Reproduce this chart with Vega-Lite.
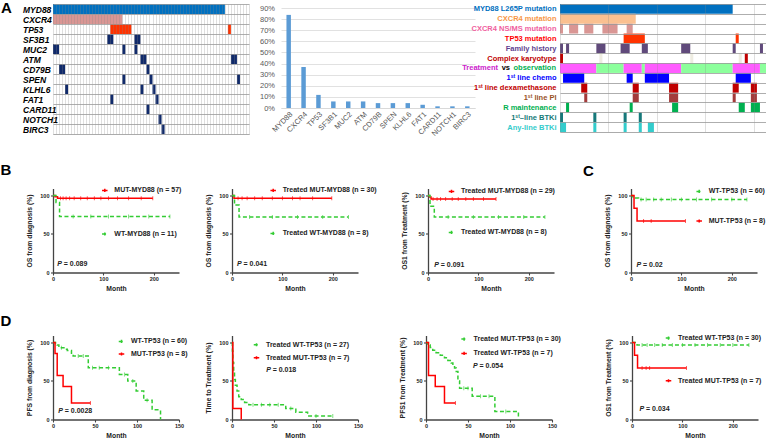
{
"$schema": "https://vega.github.io/schema/vega-lite/v6.json",
"padding": {"left": 0, "top": 0, "right": 0, "bottom": 0},
"background": "white",
"spacing": 24.5,
"config": {
 "font": "Liberation Sans",
 "view": {"stroke": null},
 "axis": {"labelFont": "Liberation Sans", "titleFont": "Liberation Sans", "labelFontWeight": "bold", "titleFontWeight": "bold", "labelFontSize": 5.5, "titleFontSize": 6.8, "labelColor": "#222", "titleColor": "#222", "domainColor": "#444", "domainWidth": 1.3, "tickColor": "#444", "tickWidth": 1.1, "tickSize": 2.5, "labelPadding": 1.5, "grid": false, "labelFlush": false},
 "axisX": {"titlePadding": 3},
 "axisY": {"titlePadding": 7},
 "legend": {"orient": "none", "title": null, "labelFont": "Liberation Sans", "labelFontWeight": "bold", "labelFontSize": 7, "labelColor": "#222", "symbolType": "M-0.5,0H0.5M0,-0.28V0.28", "symbolSize": 121, "symbolStrokeWidth": 1.4, "labelOffset": 3, "padding": 0},
 "title": {"font": "Liberation Sans", "fontSize": 15, "fontWeight": "bold", "color": "#000", "anchor": "start", "frame": "group", "baseline": "alphabetic"},
 "line": {"strokeWidth": 1.5}
},
"datasets": {
 "onco": [
  {"gene":"MYD88","s":0,"e":57,"k":"MYD88"},
  {"gene":"CXCR4","s":0,"e":23,"k":"CXCR4"},
  {"gene":"TP53","s":19,"e":26,"k":"TP53"},{"gene":"TP53","s":58,"e":59,"k":"TP53"},
  {"gene":"SF3B1","s":18,"e":20,"k":"other"},{"gene":"SF3B1","s":27,"e":29,"k":"other"},
  {"gene":"MUC2","s":0,"e":2,"k":"other"},{"gene":"MUC2","s":23,"e":24,"k":"other"},{"gene":"MUC2","s":27,"e":28,"k":"other"},
  {"gene":"ATM","s":29,"e":31,"k":"other"},{"gene":"ATM","s":59,"e":61,"k":"other"},
  {"gene":"CD79B","s":2,"e":4,"k":"other"},{"gene":"CD79B","s":31,"e":32,"k":"other"},
  {"gene":"SPEN","s":23,"e":24,"k":"other"},{"gene":"SPEN","s":32,"e":33,"k":"other"},{"gene":"SPEN","s":61,"e":62,"k":"other"},
  {"gene":"KLHL6","s":4,"e":5,"k":"other"},{"gene":"KLHL6","s":29,"e":30,"k":"other"},{"gene":"KLHL6","s":33,"e":34,"k":"other"},
  {"gene":"FAT1","s":19,"e":20,"k":"other"},{"gene":"FAT1","s":34,"e":35,"k":"other"},
  {"gene":"CARD11","s":31,"e":32,"k":"other"},
  {"gene":"NOTCH1","s":35,"e":36,"k":"other"},
  {"gene":"BIRC3","s":36,"e":37,"k":"other"}
 ],
 "freq": [
  {"gene":"MYD88","pct":0.838},{"gene":"CXCR4","pct":0.368},{"gene":"TP53","pct":0.118},{"gene":"SF3B1","pct":0.059},{"gene":"MUC2","pct":0.059},{"gene":"ATM","pct":0.059},{"gene":"CD79B","pct":0.044},{"gene":"SPEN","pct":0.044},{"gene":"KLHL6","pct":0.044},{"gene":"FAT1","pct":0.029},{"gene":"CARD11","pct":0.015},{"gene":"NOTCH1","pct":0.015},{"gene":"BIRC3","pct":0.015}
 ],
 "clin": [
  {"row":"MYD88 L265P mutation","s":0,"e":57,"c":"MYD88"},
  {"row":"CXCR4 mutation","s":0,"e":25,"c":"CXCR4"},
  {"row":"CXCR4 NS/MS mutation","s":0,"e":1,"c":"NSMS"},{"row":"CXCR4 NS/MS mutation","s":3,"e":6,"c":"NSMS"},{"row":"CXCR4 NS/MS mutation","s":8,"e":11,"c":"NSMS"},{"row":"CXCR4 NS/MS mutation","s":14,"e":19,"c":"NSMS"},{"row":"CXCR4 NS/MS mutation","s":22,"e":24,"c":"NSMS"},
  {"row":"TP53 mutation","s":21,"e":28,"c":"TP53"},{"row":"TP53 mutation","s":58,"e":59,"c":"TP53"},
  {"row":"Family history","s":0,"e":1,"c":"Family"},{"row":"Family history","s":2,"e":3,"c":"Family"},{"row":"Family history","s":12,"e":15,"c":"Family"},{"row":"Family history","s":20,"e":23,"c":"Family"},{"row":"Family history","s":27,"e":29,"c":"Family"},{"row":"Family history","s":40,"e":43,"c":"Family"},{"row":"Family history","s":57,"e":58,"c":"Family"},{"row":"Family history","s":66,"e":67,"c":"Family"},
  {"row":"Complex karyotype","s":0,"e":1,"c":"Complex"},{"row":"Complex karyotype","s":13,"e":14,"c":"NA"},{"row":"Complex karyotype","s":43,"e":44,"c":"NA"},{"row":"Complex karyotype","s":59,"e":60,"c":"NA"},{"row":"Complex karyotype","s":61,"e":62,"c":"Complex"},
  {"row":"Treatment vs observation","s":0,"e":12,"c":"Treatment"},{"row":"Treatment vs observation","s":12,"e":21,"c":"Observation"},{"row":"Treatment vs observation","s":21,"e":27,"c":"Treatment"},{"row":"Treatment vs observation","s":27,"e":28,"c":"Observation"},{"row":"Treatment vs observation","s":28,"e":40,"c":"Treatment"},{"row":"Treatment vs observation","s":40,"e":57,"c":"Observation"},{"row":"Treatment vs observation","s":57,"e":66,"c":"Treatment"},{"row":"Treatment vs observation","s":66,"e":68,"c":"Observation"},
  {"row":"1ˢᵗ line chemo","s":1,"e":8,"c":"Chemo"},{"row":"1ˢᵗ line chemo","s":22,"e":24,"c":"Chemo"},{"row":"1ˢᵗ line chemo","s":28,"e":36,"c":"Chemo"},{"row":"1ˢᵗ line chemo","s":58,"e":63,"c":"Chemo"},
  {"row":"1ˢᵗ line dexamethasone","s":7,"e":9,"c":"Dexa"},{"row":"1ˢᵗ line dexamethasone","s":24,"e":26,"c":"Dexa"},{"row":"1ˢᵗ line dexamethasone","s":36,"e":39,"c":"Dexa"},{"row":"1ˢᵗ line dexamethasone","s":57,"e":59,"c":"Dexa"},{"row":"1ˢᵗ line dexamethasone","s":63,"e":65,"c":"Dexa"},
  {"row":"1ˢᵗ line PI","s":8,"e":9,"c":"PI"},{"row":"1ˢᵗ line PI","s":24,"e":26,"c":"PI"},{"row":"1ˢᵗ line PI","s":36,"e":39,"c":"PI"},{"row":"1ˢᵗ line PI","s":57,"e":58,"c":"PI"},{"row":"1ˢᵗ line PI","s":63,"e":65,"c":"PI"},
  {"row":"R maintenance","s":2,"e":3,"c":"Rm"},{"row":"R maintenance","s":23,"e":24,"c":"Rm"},{"row":"R maintenance","s":37,"e":39,"c":"Rm"},{"row":"R maintenance","s":59,"e":61,"c":"Rm"},{"row":"R maintenance","s":63,"e":66,"c":"Rm"},
  {"row":"1ˢᵗ–line BTKi","s":0,"e":1,"c":"BTKi1"},{"row":"1ˢᵗ–line BTKi","s":11,"e":12,"c":"BTKi1"},{"row":"1ˢᵗ–line BTKi","s":21,"e":22,"c":"BTKi1"},{"row":"1ˢᵗ–line BTKi","s":26,"e":27,"c":"BTKi1"},
  {"row":"Any-line BTKi","s":0,"e":2,"c":"BTKiAny"},{"row":"Any-line BTKi","s":11,"e":12,"c":"BTKiAny"},{"row":"Any-line BTKi","s":21,"e":22,"c":"BTKiAny"},{"row":"Any-line BTKi","s":26,"e":27,"c":"BTKiAny"},{"row":"Any-line BTKi","s":29,"e":31,"c":"BTKiAny"}
 ],
 "tvo": [
  {"row":"Treatment vs observation","part":"Treatment","kind":"T"},
  {"row":"Treatment vs observation","part":"vs","kind":"V"},
  {"row":"Treatment vs observation","part":"observation","kind":"O"}
 ],
 "b1": [
  {"g":"MUT-MYD88 (n = 57)","t":0,"s":100},{"g":"MUT-MYD88 (n = 57)","t":4,"s":98.2},{"g":"MUT-MYD88 (n = 57)","t":9,"s":96.4},{"g":"MUT-MYD88 (n = 57)","t":198,"s":96.4},
  {"g":"WT-MYD88 (n = 11)","t":0,"s":100},{"g":"WT-MYD88 (n = 11)","t":6,"s":90.9},{"g":"WT-MYD88 (n = 11)","t":13,"s":72.7},{"g":"WT-MYD88 (n = 11)","t":232,"s":72.7}
 ],
 "b1c": [
  {"g":"MUT-MYD88 (n = 57)","t":15,"s":96.4},{"g":"MUT-MYD88 (n = 57)","t":20,"s":96.4},{"g":"MUT-MYD88 (n = 57)","t":26,"s":96.4},{"g":"MUT-MYD88 (n = 57)","t":33,"s":96.4},{"g":"MUT-MYD88 (n = 57)","t":42,"s":96.4},{"g":"MUT-MYD88 (n = 57)","t":55,"s":96.4},{"g":"MUT-MYD88 (n = 57)","t":68,"s":96.4},{"g":"MUT-MYD88 (n = 57)","t":82,"s":96.4},{"g":"MUT-MYD88 (n = 57)","t":95,"s":96.4},{"g":"MUT-MYD88 (n = 57)","t":110,"s":96.4},{"g":"MUT-MYD88 (n = 57)","t":128,"s":96.4},{"g":"MUT-MYD88 (n = 57)","t":150,"s":96.4},{"g":"MUT-MYD88 (n = 57)","t":175,"s":96.4},{"g":"MUT-MYD88 (n = 57)","t":198,"s":96.4},
  {"g":"WT-MYD88 (n = 11)","t":40,"s":72.7},{"g":"WT-MYD88 (n = 11)","t":75,"s":72.7},{"g":"WT-MYD88 (n = 11)","t":110,"s":72.7},{"g":"WT-MYD88 (n = 11)","t":150,"s":72.7},{"g":"WT-MYD88 (n = 11)","t":190,"s":72.7},{"g":"WT-MYD88 (n = 11)","t":232,"s":72.7}
 ],
 "b2": [
  {"g":"Treated MUT-MYD88 (n = 30)","t":0,"s":100},{"g":"Treated MUT-MYD88 (n = 30)","t":4,"s":96.2},{"g":"Treated MUT-MYD88 (n = 30)","t":198,"s":96.2},
  {"g":"Treated WT-MYD88 (n = 8)","t":0,"s":100},{"g":"Treated WT-MYD88 (n = 8)","t":5,"s":87.5},{"g":"Treated WT-MYD88 (n = 8)","t":14,"s":72},{"g":"Treated WT-MYD88 (n = 8)","t":231,"s":72}
 ],
 "b2c": [
  {"g":"Treated MUT-MYD88 (n = 30)","t":12,"s":96.2},{"g":"Treated MUT-MYD88 (n = 30)","t":20,"s":96.2},{"g":"Treated MUT-MYD88 (n = 30)","t":30,"s":96.2},{"g":"Treated MUT-MYD88 (n = 30)","t":45,"s":96.2},{"g":"Treated MUT-MYD88 (n = 30)","t":60,"s":96.2},{"g":"Treated MUT-MYD88 (n = 30)","t":80,"s":96.2},{"g":"Treated MUT-MYD88 (n = 30)","t":100,"s":96.2},{"g":"Treated MUT-MYD88 (n = 30)","t":120,"s":96.2},{"g":"Treated MUT-MYD88 (n = 30)","t":135,"s":96.2},{"g":"Treated MUT-MYD88 (n = 30)","t":160,"s":96.2},{"g":"Treated MUT-MYD88 (n = 30)","t":198,"s":96.2},
  {"g":"Treated WT-MYD88 (n = 8)","t":35,"s":72},{"g":"Treated WT-MYD88 (n = 8)","t":80,"s":72},{"g":"Treated WT-MYD88 (n = 8)","t":130,"s":72},{"g":"Treated WT-MYD88 (n = 8)","t":180,"s":72},{"g":"Treated WT-MYD88 (n = 8)","t":231,"s":72}
 ],
 "b3": [
  {"g":"Treated MUT-MYD88 (n = 29)","t":0,"s":100},{"g":"Treated MUT-MYD88 (n = 29)","t":3,"s":98},{"g":"Treated MUT-MYD88 (n = 29)","t":6,"s":95.5},{"g":"Treated MUT-MYD88 (n = 29)","t":135,"s":95.5},
  {"g":"Treated WT-MYD88 (n = 8)","t":0,"s":100},{"g":"Treated WT-MYD88 (n = 8)","t":4,"s":86},{"g":"Treated WT-MYD88 (n = 8)","t":12.5,"s":72},{"g":"Treated WT-MYD88 (n = 8)","t":232,"s":72}
 ],
 "b3c": [
  {"g":"Treated MUT-MYD88 (n = 29)","t":10,"s":95.5},{"g":"Treated MUT-MYD88 (n = 29)","t":18,"s":95.5},{"g":"Treated MUT-MYD88 (n = 29)","t":25,"s":95.5},{"g":"Treated MUT-MYD88 (n = 29)","t":35,"s":95.5},{"g":"Treated MUT-MYD88 (n = 29)","t":48,"s":95.5},{"g":"Treated MUT-MYD88 (n = 29)","t":60,"s":95.5},{"g":"Treated MUT-MYD88 (n = 29)","t":75,"s":95.5},{"g":"Treated MUT-MYD88 (n = 29)","t":90,"s":95.5},{"g":"Treated MUT-MYD88 (n = 29)","t":110,"s":95.5},{"g":"Treated MUT-MYD88 (n = 29)","t":135,"s":95.5},
  {"g":"Treated WT-MYD88 (n = 8)","t":40,"s":72},{"g":"Treated WT-MYD88 (n = 8)","t":90,"s":72},{"g":"Treated WT-MYD88 (n = 8)","t":140,"s":72},{"g":"Treated WT-MYD88 (n = 8)","t":190,"s":72},{"g":"Treated WT-MYD88 (n = 8)","t":232,"s":72}
 ],
 "c": [
  {"g":"WT-TP53 (n = 60)","t":0,"s":100},{"g":"WT-TP53 (n = 60)","t":3,"s":98.3},{"g":"WT-TP53 (n = 60)","t":7,"s":96.6},{"g":"WT-TP53 (n = 60)","t":15,"s":94.8},{"g":"WT-TP53 (n = 60)","t":230,"s":94.8},
  {"g":"MUT-TP53 (n = 8)","t":0,"s":100},{"g":"MUT-TP53 (n = 8)","t":6,"s":83.3},{"g":"MUT-TP53 (n = 8)","t":12,"s":66.7},{"g":"MUT-TP53 (n = 8)","t":108,"s":66.7}
 ],
 "cc": [
  {"g":"WT-TP53 (n = 60)","t":20,"s":94.8},{"g":"WT-TP53 (n = 60)","t":30,"s":94.8},{"g":"WT-TP53 (n = 60)","t":45,"s":94.8},{"g":"WT-TP53 (n = 60)","t":60,"s":94.8},{"g":"WT-TP53 (n = 60)","t":80,"s":94.8},{"g":"WT-TP53 (n = 60)","t":100,"s":94.8},{"g":"WT-TP53 (n = 60)","t":130,"s":94.8},{"g":"WT-TP53 (n = 60)","t":160,"s":94.8},{"g":"WT-TP53 (n = 60)","t":200,"s":94.8},{"g":"WT-TP53 (n = 60)","t":230,"s":94.8},
  {"g":"MUT-TP53 (n = 8)","t":25,"s":66.7},{"g":"MUT-TP53 (n = 8)","t":40,"s":66.7},{"g":"MUT-TP53 (n = 8)","t":108,"s":66.7}
 ],
 "d1": [
  {"g":"WT-TP53 (n = 60)","t":0,"s":100},{"g":"WT-TP53 (n = 60)","t":3,"s":98.3},{"g":"WT-TP53 (n = 60)","t":5,"s":96.6},{"g":"WT-TP53 (n = 60)","t":7,"s":93.1},{"g":"WT-TP53 (n = 60)","t":15,"s":91.3},{"g":"WT-TP53 (n = 60)","t":17,"s":89.6},{"g":"WT-TP53 (n = 60)","t":22,"s":86},{"g":"WT-TP53 (n = 60)","t":24,"s":82.4},{"g":"WT-TP53 (n = 60)","t":42,"s":67},{"g":"WT-TP53 (n = 60)","t":79,"s":58.5},{"g":"WT-TP53 (n = 60)","t":89,"s":49.8},{"g":"WT-TP53 (n = 60)","t":99,"s":37},{"g":"WT-TP53 (n = 60)","t":108,"s":25},{"g":"WT-TP53 (n = 60)","t":118,"s":12.5},{"g":"WT-TP53 (n = 60)","t":128,"s":0},
  {"g":"MUT-TP53 (n = 8)","t":0,"s":100},{"g":"MUT-TP53 (n = 8)","t":2.4,"s":85.7},{"g":"MUT-TP53 (n = 8)","t":5,"s":57.1},{"g":"MUT-TP53 (n = 8)","t":12,"s":42.9},{"g":"MUT-TP53 (n = 8)","t":22,"s":21.4},{"g":"MUT-TP53 (n = 8)","t":44.5,"s":21.4}
 ],
 "d1c": [
  {"g":"WT-TP53 (n = 60)","t":10,"s":93.1},{"g":"WT-TP53 (n = 60)","t":30,"s":82.4},{"g":"WT-TP53 (n = 60)","t":36,"s":82.4},{"g":"WT-TP53 (n = 60)","t":47,"s":67},{"g":"WT-TP53 (n = 60)","t":55,"s":67},{"g":"WT-TP53 (n = 60)","t":66,"s":67},{"g":"WT-TP53 (n = 60)","t":85,"s":58.5},{"g":"WT-TP53 (n = 60)","t":95,"s":49.8},{"g":"WT-TP53 (n = 60)","t":112,"s":25},
  {"g":"MUT-TP53 (n = 8)","t":44.5,"s":21.4}
 ],
 "d2": [
  {"g":"Treated WT-TP53 (n = 27)","t":0,"s":100},{"g":"Treated WT-TP53 (n = 27)","t":0.5,"s":88.9},{"g":"Treated WT-TP53 (n = 27)","t":1,"s":74},{"g":"Treated WT-TP53 (n = 27)","t":2,"s":63},{"g":"Treated WT-TP53 (n = 27)","t":3,"s":51.9},{"g":"Treated WT-TP53 (n = 27)","t":4,"s":44.4},{"g":"Treated WT-TP53 (n = 27)","t":6,"s":37},{"g":"Treated WT-TP53 (n = 27)","t":8,"s":29.6},{"g":"Treated WT-TP53 (n = 27)","t":11,"s":25.9},{"g":"Treated WT-TP53 (n = 27)","t":15,"s":22.2},{"g":"Treated WT-TP53 (n = 27)","t":20,"s":19},{"g":"Treated WT-TP53 (n = 27)","t":64,"s":14.2},{"g":"Treated WT-TP53 (n = 27)","t":76,"s":9.5},{"g":"Treated WT-TP53 (n = 27)","t":90,"s":4.7},{"g":"Treated WT-TP53 (n = 27)","t":120,"s":4.7},
  {"g":"Treated MUT-TP53 (n = 7)","t":0,"s":100},{"g":"Treated MUT-TP53 (n = 7)","t":1,"s":14.3},{"g":"Treated MUT-TP53 (n = 7)","t":11,"s":0}
 ],
 "d2c": [
  {"g":"Treated WT-TP53 (n = 27)","t":25,"s":19},{"g":"Treated WT-TP53 (n = 27)","t":35,"s":19},{"g":"Treated WT-TP53 (n = 27)","t":45,"s":19},{"g":"Treated WT-TP53 (n = 27)","t":55,"s":19},{"g":"Treated WT-TP53 (n = 27)","t":70,"s":14.2},{"g":"Treated WT-TP53 (n = 27)","t":100,"s":4.7},{"g":"Treated WT-TP53 (n = 27)","t":120,"s":4.7}
 ],
 "d3": [
  {"g":"Treated MUT-TP53 (n = 30)","t":0,"s":100},{"g":"Treated MUT-TP53 (n = 30)","t":2,"s":96.7},{"g":"Treated MUT-TP53 (n = 30)","t":5,"s":93.3},{"g":"Treated MUT-TP53 (n = 30)","t":8,"s":90},{"g":"Treated MUT-TP53 (n = 30)","t":12,"s":86.7},{"g":"Treated MUT-TP53 (n = 30)","t":17,"s":83.3},{"g":"Treated MUT-TP53 (n = 30)","t":22,"s":80},{"g":"Treated MUT-TP53 (n = 30)","t":26,"s":76.7},{"g":"Treated MUT-TP53 (n = 30)","t":30,"s":73.3},{"g":"Treated MUT-TP53 (n = 30)","t":32,"s":70},{"g":"Treated MUT-TP53 (n = 30)","t":34,"s":66.7},{"g":"Treated MUT-TP53 (n = 30)","t":36,"s":62.3},{"g":"Treated MUT-TP53 (n = 30)","t":38,"s":50},{"g":"Treated MUT-TP53 (n = 30)","t":40,"s":40.6},{"g":"Treated MUT-TP53 (n = 30)","t":55,"s":30.3},{"g":"Treated MUT-TP53 (n = 30)","t":82,"s":10.4},{"g":"Treated MUT-TP53 (n = 30)","t":110,"s":0},
  {"g":"Treated WT-TP53 (n = 7)","t":0,"s":100},{"g":"Treated WT-TP53 (n = 7)","t":3,"s":57.1},{"g":"Treated WT-TP53 (n = 7)","t":11,"s":42.9},{"g":"Treated WT-TP53 (n = 7)","t":22,"s":21.4},{"g":"Treated WT-TP53 (n = 7)","t":35,"s":21.4}
 ],
 "d3c": [
  {"g":"Treated MUT-TP53 (n = 30)","t":45,"s":40.6},{"g":"Treated MUT-TP53 (n = 30)","t":50,"s":40.6},{"g":"Treated MUT-TP53 (n = 30)","t":65,"s":30.3},{"g":"Treated MUT-TP53 (n = 30)","t":75,"s":30.3},{"g":"Treated MUT-TP53 (n = 30)","t":95,"s":10.4},
  {"g":"Treated WT-TP53 (n = 7)","t":35,"s":21.4}
 ],
 "d4": [
  {"g":"Treated WT-TP53 (n = 30)","t":0,"s":100},{"g":"Treated WT-TP53 (n = 30)","t":10,"s":96.7},{"g":"Treated WT-TP53 (n = 30)","t":232,"s":96.7},
  {"g":"Treated MUT-TP53 (n = 7)","t":0,"s":100},{"g":"Treated MUT-TP53 (n = 7)","t":5,"s":83.3},{"g":"Treated MUT-TP53 (n = 7)","t":11,"s":66.7},{"g":"Treated MUT-TP53 (n = 7)","t":108,"s":66.7}
 ],
 "d4c": [
  {"g":"Treated WT-TP53 (n = 30)","t":20,"s":96.7},{"g":"Treated WT-TP53 (n = 30)","t":30,"s":96.7},{"g":"Treated WT-TP53 (n = 30)","t":45,"s":96.7},{"g":"Treated WT-TP53 (n = 30)","t":60,"s":96.7},{"g":"Treated WT-TP53 (n = 30)","t":80,"s":96.7},{"g":"Treated WT-TP53 (n = 30)","t":100,"s":96.7},{"g":"Treated WT-TP53 (n = 30)","t":125,"s":96.7},{"g":"Treated WT-TP53 (n = 30)","t":150,"s":96.7},{"g":"Treated WT-TP53 (n = 30)","t":175,"s":96.7},{"g":"Treated WT-TP53 (n = 30)","t":200,"s":96.7},{"g":"Treated WT-TP53 (n = 30)","t":232,"s":96.7},
  {"g":"Treated MUT-TP53 (n = 7)","t":20,"s":66.7},{"g":"Treated MUT-TP53 (n = 7)","t":28,"s":66.7},{"g":"Treated MUT-TP53 (n = 7)","t":35,"s":66.7},{"g":"Treated MUT-TP53 (n = 7)","t":108,"s":66.7}
 ]
},
"resolve": {"scale": {"color": "independent", "strokeDash": "independent"}},
"vconcat": [
 {"bounds": "flush", "spacing": 32, "resolve": {"scale": {"color": "independent", "strokeDash": "independent"}},
  "hconcat": [
   {"width": 196, "height": 130,
    "title": {"text": "A", "dx": -52, "offset": 0, "dy": 15.5},
    "data": {"name": "onco"},
    "mark": {"type": "rect"},
    "encoding": {
     "x": {"field": "s", "type": "quantitative", "scale": {"domain": [0, 65], "nice": false, "zero": false},
      "axis": {"title": null, "values": [0,1,2,3,4,5,6,7,8,9,10,11,12,13,14,15,16,17,18,19,20,21,22,23,24,25,26,27,28,29,30,31,32,33,34,35,36,37,38,39,40,41,42,43,44,45,46,47,48,49,50,51,52,53,54,55,56,57,58,59,60,61,62,63,64,65], "grid": true, "gridColor": "#888", "gridOpacity": 0.45, "gridWidth": 0.6, "labels": false, "ticks": false, "tickSize": 0, "domainColor": "#aaa", "domainWidth": 0.8, "zindex": 1}},
     "x2": {"field": "e"},
     "y": {"field": "gene", "type": "nominal", "sort": ["MYD88","CXCR4","TP53","SF3B1","MUC2","ATM","CD79B","SPEN","KLHL6","FAT1","CARD11","NOTCH1","BIRC3"], "scale": {"paddingInner": 0, "paddingOuter": 0},
      "axis": {"title": null, "grid": true, "tickBand": "extent", "gridColor": "#999", "gridWidth": 0.8, "ticks": false, "tickSize": 0, "domain": false, "labelAlign": "left", "labelPadding": 30.5, "labelFontStyle": "italic", "labelFontWeight": "bold", "labelFontSize": 8.5, "labelColor": "#000", "zindex": 1}},
     "color": {"field": "k", "type": "nominal", "scale": {"domain": ["MYD88","CXCR4","TP53","other"], "range": ["#0070c0","#d99694","#ff3300","#102a6b"]}, "legend": null}
    }
   },
   {"bounds": "flush", "spacing": 85, "resolve": {"scale": {"color": "independent", "strokeDash": "independent"}},
    "hconcat": [
     {"width": 194, "height": 104,
      "data": {"name": "freq"},
      "mark": {"type": "bar", "color": "#5b9bd5"},
      "encoding": {
       "x": {"field": "gene", "type": "nominal", "sort": null, "scale": {"paddingInner": 0.7, "paddingOuter": 0.366},
        "axis": {"title": null, "labelAngle": -45, "labelFontSize": 7.5, "labelFontWeight": "normal", "labelColor": "#595959", "ticks": false, "tickSize": 0, "domainColor": "#d9d9d9", "domainWidth": 1, "labelPadding": 2}},
       "y": {"field": "pct", "type": "quantitative", "scale": {"domain": [0, 0.936], "nice": false},
        "axis": {"title": null, "values": [0,0.1,0.2,0.3,0.4,0.5,0.6,0.7,0.8,0.9], "format": ".0%", "grid": true, "gridColor": "#d9d9d9", "gridWidth": 0.8, "domain": false, "ticks": false, "tickSize": 0, "labelFontSize": 7.5, "labelFontWeight": "normal", "labelColor": "#595959", "labelPadding": 6.5}}
      }
     },
     {"width": 206, "height": 128,
      "layer": [
       {"data": {"name": "clin"},
        "mark": {"type": "rect"},
        "encoding": {
         "x": {"field": "s", "type": "quantitative", "scale": {"domain": [0, 68], "nice": false, "zero": false},
          "axis": {"title": null, "values": [0,1,2,3,4,5,6,7,8,9,10,11,12,13,14,15,16,17,18,19,20,21,22,23,24,25,26,27,28,29,30,31,32,33,34,35,36,37,38,39,40,41,42,43,44,45,46,47,48,49,50,51,52,53,54,55,56,57,58,59,60,61,62,63,64,65,66,67,68], "grid": true, "gridColor": "#888", "gridOpacity": 0.45, "gridWidth": 0.6, "labels": false, "ticks": false, "tickSize": 0, "domainColor": "#aaa", "domainWidth": 0.8, "zindex": 1}},
         "x2": {"field": "e"},
         "y": {"field": "row", "type": "nominal", "sort": ["MYD88 L265P mutation","CXCR4 mutation","CXCR4 NS/MS mutation","TP53 mutation","Family history","Complex karyotype","Treatment vs observation","1ˢᵗ line chemo","1ˢᵗ line dexamethasone","1ˢᵗ line PI","R maintenance","1ˢᵗ–line BTKi","Any-line BTKi"], "scale": {"paddingInner": 0, "paddingOuter": 0},
          "axis": {"title": null, "grid": true, "tickBand": "extent", "gridColor": "#999", "gridWidth": 0.8, "ticks": false, "tickSize": 0, "domain": false, "labelPadding": 4, "labelFontSize": 7.5, "labelFontWeight": "bold",
           "labelExpr": "datum.value == 'Treatment vs observation' ? '' : datum.value",
           "labelColor": {"condition": [
            {"test": "datum.value == 'MYD88 L265P mutation'", "value": "#0070c0"},
            {"test": "datum.value == 'CXCR4 mutation'", "value": "#f79646"},
            {"test": "datum.value == 'CXCR4 NS/MS mutation'", "value": "#f0609e"},
            {"test": "datum.value == 'TP53 mutation'", "value": "#ff0000"},
            {"test": "datum.value == 'Family history'", "value": "#5f3f8f"},
            {"test": "datum.value == 'Complex karyotype'", "value": "#c00000"},
            {"test": "datum.value == '1ˢᵗ line chemo'", "value": "#0000ff"},
            {"test": "datum.value == '1ˢᵗ line dexamethasone'", "value": "#c00000"},
            {"test": "datum.value == '1ˢᵗ line PI'", "value": "#99531f"},
            {"test": "datum.value == 'R maintenance'", "value": "#00b050"},
            {"test": "datum.value == '1ˢᵗ–line BTKi'", "value": "#137a78"}
           ], "value": "#33cccc"}}},
         "color": {"field": "c", "type": "nominal", "scale": {"domain": ["MYD88","CXCR4","NSMS","TP53","Family","Complex","NA","Treatment","Observation","Chemo","Dexa","PI","Rm","BTKi1","BTKiAny"], "range": ["#0070c0","#fac090","#d99694","#ff3300","#604a7b","#c00000","#eeece1","#ff5cff","#8cff9c","#0000ff","#c00000","#a33b3b","#00b050","#16787a","#33cccc"]}, "legend": null}
        }
       },
       {"data": {"name": "tvo"}, "transform": [{"filter": "datum.kind == 'O'"}],
        "mark": {"type": "text", "align": "right", "baseline": "middle", "fontSize": 7.5, "fontWeight": "bold", "dx": -4, "color": "#00b050"},
        "encoding": {"x": {"datum": 0}, "y": {"field": "row", "type": "nominal", "sort": ["MYD88 L265P mutation","CXCR4 mutation","CXCR4 NS/MS mutation","TP53 mutation","Family history","Complex karyotype","Treatment vs observation","1ˢᵗ line chemo","1ˢᵗ line dexamethasone","1ˢᵗ line PI","R maintenance","1ˢᵗ–line BTKi","Any-line BTKi"]}, "text": {"field": "part"}}},
       {"data": {"name": "tvo"}, "transform": [{"filter": "datum.kind == 'V'"}],
        "mark": {"type": "text", "align": "right", "baseline": "middle", "fontSize": 7.5, "fontWeight": "bold", "dx": -50, "color": "#000000"},
        "encoding": {"x": {"datum": 0}, "y": {"field": "row", "type": "nominal", "sort": ["MYD88 L265P mutation","CXCR4 mutation","CXCR4 NS/MS mutation","TP53 mutation","Family history","Complex karyotype","Treatment vs observation","1ˢᵗ line chemo","1ˢᵗ line dexamethasone","1ˢᵗ line PI","R maintenance","1ˢᵗ–line BTKi","Any-line BTKi"]}, "text": {"field": "part"}}},
       {"data": {"name": "tvo"}, "transform": [{"filter": "datum.kind == 'T'"}],
        "mark": {"type": "text", "align": "right", "baseline": "middle", "fontSize": 7.5, "fontWeight": "bold", "dx": -62, "color": "#cc22cc"},
        "encoding": {"x": {"datum": 0}, "y": {"field": "row", "type": "nominal", "sort": ["MYD88 L265P mutation","CXCR4 mutation","CXCR4 NS/MS mutation","TP53 mutation","Family history","Complex karyotype","Treatment vs observation","1ˢᵗ line chemo","1ˢᵗ line dexamethasone","1ˢᵗ line PI","R maintenance","1ˢᵗ–line BTKi","Any-line BTKi"]}, "text": {"field": "part"}}}
      ]
     }
    ]
   }
  ]
 },
 {"spacing": 21, "resolve": {"scale": {"color": "independent", "strokeDash": "independent"}},
  "vconcat": [
   {"bounds": "flush", "spacing": 53, "resolve": {"scale": {"color": "independent", "strokeDash": "independent"}},
    "hconcat": [
     {"width": 126, "height": 84,
      "title": {"text": "B", "dx": -52.5, "offset": 6},
      "layer": [
       {"data": {"name": "b1"}, "mark": {"type": "line", "interpolate": "step-after"},
        "encoding": {
         "x": {"field": "t", "type": "quantitative", "scale": {"domain": [0, 250], "nice": false}, "axis": {"values": [0,50,100,150,200,250], "title": "Month"}},
         "y": {"field": "s", "type": "quantitative", "scale": {"domain": [0, 109], "nice": false}, "axis": {"values": [0,50,100], "title": "OS from diagnosis (%)"}},
         "color": {"field": "g", "type": "nominal", "scale": {"domain": ["MUT-MYD88 (n = 57)","WT-MYD88 (n = 11)"], "range": ["#ff0000","#33cc33"]}, "legend": {"legendX": 45.3, "legendY": -4.6, "rowPadding": 31.6}},
         "strokeDash": {"field": "g", "type": "nominal", "scale": {"domain": ["MUT-MYD88 (n = 57)","WT-MYD88 (n = 11)"], "range": [[1,0],[4,2.5]]}, "legend": {"legendX": 45.3, "legendY": -4.6, "rowPadding": 31.6}}
        }},
       {"data": {"name": "b1c"}, "mark": {"type": "tick", "orient": "vertical", "size": 4, "thickness": 0.9},
        "encoding": {"x": {"field": "t", "type": "quantitative"}, "y": {"field": "s", "type": "quantitative"}, "color": {"field": "g", "type": "nominal"}}},
       {"data": {"values": [{"p": "P"}]}, "mark": {"type": "text", "align": "left", "fontSize": 7, "fontWeight": "bold", "fontStyle": "italic", "color": "#222"},
        "encoding": {"x": {"datum": 8.5}, "y": {"datum": 11}, "text": {"field": "p"}}},
       {"data": {"values": [{"p": "= 0.089"}]}, "mark": {"type": "text", "align": "left", "fontSize": 7, "fontWeight": "bold", "dx": 6.5, "color": "#222"},
        "encoding": {"x": {"datum": 8.5}, "y": {"datum": 11}, "text": {"field": "p"}}}
      ]
     },
     {"bounds": "flush", "spacing": 70, "resolve": {"scale": {"color": "independent", "strokeDash": "independent"}},
      "hconcat": [
       {"width": 126, "height": 84,
        "layer": [
         {"data": {"name": "b2"}, "mark": {"type": "line", "interpolate": "step-after"},
          "encoding": {
           "x": {"field": "t", "type": "quantitative", "scale": {"domain": [0, 250], "nice": false}, "axis": {"values": [0,50,100,150,200,250], "title": "Month"}},
           "y": {"field": "s", "type": "quantitative", "scale": {"domain": [0, 109], "nice": false}, "axis": {"values": [0,50,100], "title": "OS from diagnosis (%)"}},
           "color": {"field": "g", "type": "nominal", "scale": {"domain": ["Treated MUT-MYD88 (n = 30)","Treated WT-MYD88 (n = 8)"], "range": ["#ff0000","#33cc33"]}, "legend": {"legendX": 34.7, "legendY": -4.6, "rowPadding": 31}},
           "strokeDash": {"field": "g", "type": "nominal", "scale": {"domain": ["Treated MUT-MYD88 (n = 30)","Treated WT-MYD88 (n = 8)"], "range": [[1,0],[4,2.5]]}, "legend": {"legendX": 34.7, "legendY": -4.6, "rowPadding": 31}}
          }},
         {"data": {"name": "b2c"}, "mark": {"type": "tick", "orient": "vertical", "size": 4, "thickness": 0.9},
          "encoding": {"x": {"field": "t", "type": "quantitative"}, "y": {"field": "s", "type": "quantitative"}, "color": {"field": "g", "type": "nominal"}}},
         {"data": {"values": [{"p": "P"}]}, "mark": {"type": "text", "align": "left", "fontSize": 7, "fontWeight": "bold", "fontStyle": "italic", "color": "#222"},
          "encoding": {"x": {"datum": 10}, "y": {"datum": 11}, "text": {"field": "p"}}},
         {"data": {"values": [{"p": "= 0.041"}]}, "mark": {"type": "text", "align": "left", "fontSize": 7, "fontWeight": "bold", "dx": 6.5, "color": "#222"},
          "encoding": {"x": {"datum": 10}, "y": {"datum": 11}, "text": {"field": "p"}}}
        ]
       },
       {"bounds": "flush", "spacing": 77, "resolve": {"scale": {"color": "independent", "strokeDash": "independent"}},
        "hconcat": [
         {"width": 126, "height": 84,
          "layer": [
           {"data": {"name": "b3"}, "mark": {"type": "line", "interpolate": "step-after"},
            "encoding": {
             "x": {"field": "t", "type": "quantitative", "scale": {"domain": [0, 250], "nice": false}, "axis": {"values": [0,50,100,150,200,250], "title": "Month"}},
             "y": {"field": "s", "type": "quantitative", "scale": {"domain": [0, 109], "nice": false}, "axis": {"values": [0,50,100], "title": "OS1 from Treatment (%)"}},
             "color": {"field": "g", "type": "nominal", "scale": {"domain": ["Treated MUT-MYD88 (n = 29)","Treated WT-MYD88 (n = 8)"], "range": ["#ff0000","#33cc33"]}, "legend": {"legendX": 17, "legendY": -3.6, "rowPadding": 29}},
             "strokeDash": {"field": "g", "type": "nominal", "scale": {"domain": ["Treated MUT-MYD88 (n = 29)","Treated WT-MYD88 (n = 8)"], "range": [[1,0],[4,2.5]]}, "legend": {"legendX": 17, "legendY": -3.6, "rowPadding": 29}}
            }},
           {"data": {"name": "b3c"}, "mark": {"type": "tick", "orient": "vertical", "size": 4, "thickness": 0.9},
            "encoding": {"x": {"field": "t", "type": "quantitative"}, "y": {"field": "s", "type": "quantitative"}, "color": {"field": "g", "type": "nominal"}}},
           {"data": {"values": [{"p": "P"}]}, "mark": {"type": "text", "align": "left", "fontSize": 7, "fontWeight": "bold", "fontStyle": "italic", "color": "#222"},
            "encoding": {"x": {"datum": 12.5}, "y": {"datum": 10}, "text": {"field": "p"}}},
           {"data": {"values": [{"p": "= 0.091"}]}, "mark": {"type": "text", "align": "left", "fontSize": 7, "fontWeight": "bold", "dx": 6.5, "color": "#222"},
            "encoding": {"x": {"datum": 12.5}, "y": {"datum": 10}, "text": {"field": "p"}}}
          ]
         },
         {"width": 126, "height": 84,
          "title": {"text": "C", "dx": -48, "offset": 6},
          "layer": [
           {"data": {"name": "c"}, "mark": {"type": "line", "interpolate": "step-after"},
            "encoding": {
             "x": {"field": "t", "type": "quantitative", "scale": {"domain": [0, 250], "nice": false}, "axis": {"values": [0,50,100,150,200,250], "title": "Month"}},
             "y": {"field": "s", "type": "quantitative", "scale": {"domain": [0, 109], "nice": false}, "axis": {"values": [0,50,100], "title": "OS from diagnosis (%)"}},
             "color": {"field": "g", "type": "nominal", "scale": {"domain": ["WT-TP53 (n = 60)","MUT-TP53 (n = 8)"], "range": ["#33cc33","#ff0000"]}, "legend": {"legendX": 61.7, "legendY": -3.6, "rowPadding": 17.6}},
             "strokeDash": {"field": "g", "type": "nominal", "scale": {"domain": ["WT-TP53 (n = 60)","MUT-TP53 (n = 8)"], "range": [[4,2.5],[1,0]]}, "legend": {"legendX": 61.7, "legendY": -3.6, "rowPadding": 17.6}}
            }},
           {"data": {"name": "cc"}, "mark": {"type": "tick", "orient": "vertical", "size": 4, "thickness": 0.9},
            "encoding": {"x": {"field": "t", "type": "quantitative"}, "y": {"field": "s", "type": "quantitative"}, "color": {"field": "g", "type": "nominal"}}},
           {"data": {"values": [{"p": "P"}]}, "mark": {"type": "text", "align": "left", "fontSize": 7, "fontWeight": "bold", "fontStyle": "italic", "color": "#222"},
            "encoding": {"x": {"datum": 11}, "y": {"datum": 10}, "text": {"field": "p"}}},
           {"data": {"values": [{"p": "= 0.02"}]}, "mark": {"type": "text", "align": "left", "fontSize": 7, "fontWeight": "bold", "dx": 6.5, "color": "#222"},
            "encoding": {"x": {"datum": 11}, "y": {"datum": 10}, "text": {"field": "p"}}}
          ]
         }
        ]
       }
      ]
     }
    ]
   },
   {"bounds": "flush", "spacing": 53, "resolve": {"scale": {"color": "independent", "strokeDash": "independent"}},
    "hconcat": [
     {"width": 126, "height": 84,
      "title": {"text": "D", "dx": -52.5, "offset": 6},
      "layer": [
       {"data": {"name": "d1"}, "mark": {"type": "line", "interpolate": "step-after"},
        "encoding": {
         "x": {"field": "t", "type": "quantitative", "scale": {"domain": [0, 150], "nice": false}, "axis": {"values": [0,50,100,150], "title": "Month"}},
         "y": {"field": "s", "type": "quantitative", "scale": {"domain": [0, 109], "nice": false}, "axis": {"values": [0,50,100], "title": "PFS from diagnosis (%)"}},
         "color": {"field": "g", "type": "nominal", "scale": {"domain": ["WT-TP53 (n = 60)","MUT-TP53 (n = 8)"], "range": ["#33cc33","#ff0000"]}, "legend": {"legendX": 62, "legendY": -0.6, "rowPadding": 0.6}},
         "strokeDash": {"field": "g", "type": "nominal", "scale": {"domain": ["WT-TP53 (n = 60)","MUT-TP53 (n = 8)"], "range": [[4,2.5],[1,0]]}, "legend": {"legendX": 62, "legendY": -0.6, "rowPadding": 0.6}}
        }},
       {"data": {"name": "d1c"}, "mark": {"type": "tick", "orient": "vertical", "size": 4, "thickness": 0.9},
        "encoding": {"x": {"field": "t", "type": "quantitative"}, "y": {"field": "s", "type": "quantitative"}, "color": {"field": "g", "type": "nominal"}}},
       {"data": {"values": [{"p": "P"}]}, "mark": {"type": "text", "align": "left", "fontSize": 7, "fontWeight": "bold", "fontStyle": "italic", "color": "#222"},
        "encoding": {"x": {"datum": 6.3}, "y": {"datum": 10.4}, "text": {"field": "p"}}},
       {"data": {"values": [{"p": "= 0.0028"}]}, "mark": {"type": "text", "align": "left", "fontSize": 7, "fontWeight": "bold", "dx": 6.5, "color": "#222"},
        "encoding": {"x": {"datum": 6.3}, "y": {"datum": 10.4}, "text": {"field": "p"}}}
      ]
     },
     {"bounds": "flush", "spacing": 68, "resolve": {"scale": {"color": "independent", "strokeDash": "independent"}},
      "hconcat": [
       {"width": 126, "height": 84,
        "layer": [
         {"data": {"name": "d2"}, "mark": {"type": "line", "interpolate": "step-after"},
          "encoding": {
           "x": {"field": "t", "type": "quantitative", "scale": {"domain": [0, 150], "nice": false}, "axis": {"values": [0,50,100,150], "title": "Month"}},
           "y": {"field": "s", "type": "quantitative", "scale": {"domain": [0, 109], "nice": false}, "axis": {"values": [0,50,100], "title": "Time to Treatment (%)"}},
           "color": {"field": "g", "type": "nominal", "scale": {"domain": ["Treated WT-TP53 (n = 27)","Treated MUT-TP53 (n = 7)"], "range": ["#33cc33","#ff0000"]}, "legend": {"legendX": 18, "legendY": 2.7, "rowPadding": 1}},
           "strokeDash": {"field": "g", "type": "nominal", "scale": {"domain": ["Treated WT-TP53 (n = 27)","Treated MUT-TP53 (n = 7)"], "range": [[4,2.5],[1,0]]}, "legend": {"legendX": 18, "legendY": 2.7, "rowPadding": 1}}
          }},
         {"data": {"name": "d2c"}, "mark": {"type": "tick", "orient": "vertical", "size": 4, "thickness": 0.9},
          "encoding": {"x": {"field": "t", "type": "quantitative"}, "y": {"field": "s", "type": "quantitative"}, "color": {"field": "g", "type": "nominal"}}},
         {"data": {"values": [{"p": "P"}]}, "mark": {"type": "text", "align": "left", "fontSize": 7, "fontWeight": "bold", "fontStyle": "italic", "color": "#222"},
          "encoding": {"x": {"datum": 40.7}, "y": {"datum": 64.5}, "text": {"field": "p"}}},
         {"data": {"values": [{"p": "= 0.018"}]}, "mark": {"type": "text", "align": "left", "fontSize": 7, "fontWeight": "bold", "dx": 6.5, "color": "#222"},
          "encoding": {"x": {"datum": 40.7}, "y": {"datum": 64.5}, "text": {"field": "p"}}}
        ]
       },
       {"bounds": "flush", "spacing": 80, "resolve": {"scale": {"color": "independent", "strokeDash": "independent"}},
        "hconcat": [
         {"width": 126, "height": 84,
          "layer": [
           {"data": {"name": "d3"}, "mark": {"type": "line", "interpolate": "step-after"},
            "encoding": {
             "x": {"field": "t", "type": "quantitative", "scale": {"domain": [0, 150], "nice": false}, "axis": {"values": [0,50,100,150], "title": "Month"}},
             "y": {"field": "s", "type": "quantitative", "scale": {"domain": [0, 109], "nice": false}, "axis": {"values": [0,50,100], "title": "PFS1 from Treatment (%)"}},
             "color": {"field": "g", "type": "nominal", "scale": {"domain": ["Treated MUT-TP53 (n = 30)","Treated WT-TP53 (n = 7)"], "range": ["#33cc33","#ff0000"]}, "legend": {"legendX": 31.6, "legendY": -2.9, "rowPadding": 2.3}},
             "strokeDash": {"field": "g", "type": "nominal", "scale": {"domain": ["Treated MUT-TP53 (n = 30)","Treated WT-TP53 (n = 7)"], "range": [[4,2.5],[1,0]]}, "legend": {"legendX": 31.6, "legendY": -2.9, "rowPadding": 2.3}}
            }},
           {"data": {"name": "d3c"}, "mark": {"type": "tick", "orient": "vertical", "size": 4, "thickness": 0.9},
            "encoding": {"x": {"field": "t", "type": "quantitative"}, "y": {"field": "s", "type": "quantitative"}, "color": {"field": "g", "type": "nominal"}}},
           {"data": {"values": [{"p": "P"}]}, "mark": {"type": "text", "align": "left", "fontSize": 7, "fontWeight": "bold", "fontStyle": "italic", "color": "#222"},
            "encoding": {"x": {"datum": 56}, "y": {"datum": 69}, "text": {"field": "p"}}},
           {"data": {"values": [{"p": "= 0.054"}]}, "mark": {"type": "text", "align": "left", "fontSize": 7, "fontWeight": "bold", "dx": 6.5, "color": "#222"},
            "encoding": {"x": {"datum": 56}, "y": {"datum": 69}, "text": {"field": "p"}}}
          ]
         },
         {"width": 126, "height": 84,
          "layer": [
           {"data": {"name": "d4"}, "mark": {"type": "line", "interpolate": "step-after"},
            "encoding": {
             "x": {"field": "t", "type": "quantitative", "scale": {"domain": [0, 250], "nice": false}, "axis": {"values": [0,50,100,150,200,250], "title": "Month"}},
             "y": {"field": "s", "type": "quantitative", "scale": {"domain": [0, 109], "nice": false}, "axis": {"values": [0,50,100], "title": "OS1 from Treatment (%)"}},
             "color": {"field": "g", "type": "nominal", "scale": {"domain": ["Treated WT-TP53 (n = 30)","Treated MUT-TP53 (n = 7)"], "range": ["#33cc33","#ff0000"]}, "legend": {"legendX": 30, "legendY": -3.9, "rowPadding": 30.6}},
             "strokeDash": {"field": "g", "type": "nominal", "scale": {"domain": ["Treated WT-TP53 (n = 30)","Treated MUT-TP53 (n = 7)"], "range": [[4,2.5],[1,0]]}, "legend": {"legendX": 30, "legendY": -3.9, "rowPadding": 30.6}}
            }},
           {"data": {"name": "d4c"}, "mark": {"type": "tick", "orient": "vertical", "size": 4, "thickness": 0.9},
            "encoding": {"x": {"field": "t", "type": "quantitative"}, "y": {"field": "s", "type": "quantitative"}, "color": {"field": "g", "type": "nominal"}}},
           {"data": {"values": [{"p": "P"}]}, "mark": {"type": "text", "align": "left", "fontSize": 7, "fontWeight": "bold", "fontStyle": "italic", "color": "#222"},
            "encoding": {"x": {"datum": 15}, "y": {"datum": 13.9}, "text": {"field": "p"}}},
           {"data": {"values": [{"p": "= 0.034"}]}, "mark": {"type": "text", "align": "left", "fontSize": 7, "fontWeight": "bold", "dx": 6.5, "color": "#222"},
            "encoding": {"x": {"datum": 15}, "y": {"datum": 13.9}, "text": {"field": "p"}}}
          ]
         }
        ]
       }
      ]
     }
    ]
   }
  ]
 }
]
}
